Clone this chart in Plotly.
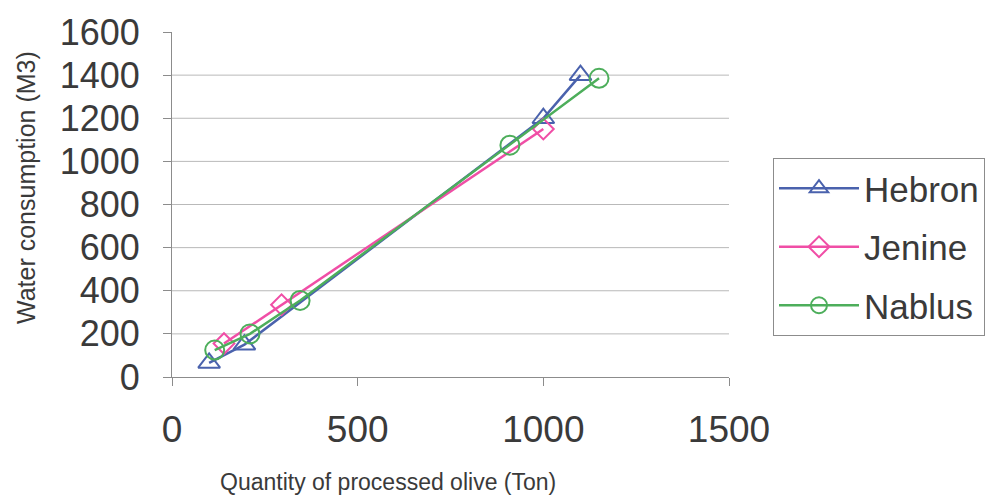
import plotly.graph_objects as go

# Data
hebron_x = [100, 195, 1000, 1100]
hebron_y = [65, 150, 1200, 1400]
jenine_x = [140, 295, 1000]
jenine_y = [155, 335, 1150]
nablus_x = [115, 210, 345, 910, 1150]
nablus_y = [125, 200, 355, 1075, 1385]

x_ticks = [0, 500, 1000, 1500]
y_ticks = [0, 200, 400, 600, 800, 1000, 1200, 1400, 1600]

FONT = "Liberation Sans, Arial, sans-serif"
TXT = "#3a3a3a"
AX = "#8c8c8c"

fig = go.Figure()
series = [
    ("Hebron", hebron_x, hebron_y, "#4a62ad", "triangle-up-open", 19),
    ("Jenine", jenine_x, jenine_y, "#f04ea6", "diamond-open", 16),
    ("Nablus", nablus_x, nablus_y, "#4dae5b", "circle-open", 19),
]
for name, xs, ys, col, sym, sz in series:
    fig.add_trace(go.Scatter(
        x=xs, y=ys, name=name, mode="lines+markers", legendgroup=name,
        line=dict(color=col, width=2.5),
        marker=dict(symbol=sym, size=sz, color=col, line=dict(color=col, width=2)),
    ))

# horizontal gridlines (except the top edge)
for v in y_ticks[1:-1]:
    fig.add_shape(type="line", xref="paper", yref="y", x0=0, x1=1, y0=v, y1=v,
                  line=dict(color="#b9b9b9", width=1), layer="below")

fig.update_layout(
    width=990, height=502,
    margin=dict(l=172, r=261, t=32, b=125, autoexpand=False),
    paper_bgcolor="white", plot_bgcolor="white",
    font=dict(family=FONT, color=TXT),
    showlegend=True,
    legend=dict(
        xref="container", yref="container",
        x=773 / 990, y=1 - 158 / 502, xanchor="left", yanchor="top",
        font=dict(size=35, color=TXT, family=FONT),
        bordercolor=AX, borderwidth=1, bgcolor="white",
        tracegroupgap=10, itemwidth=80,
    ),
    xaxis=dict(
        range=[0, 1500], tickvals=x_ticks, showgrid=False, zeroline=False,
        showline=True, linecolor=AX, linewidth=1, automargin=False,
        ticks="outside", ticklen=8, tickcolor=AX,
        tickfont=dict(size=37, color=TXT), ticklabelstandoff=12,
    ),
    yaxis=dict(
        range=[0, 1600], tickvals=y_ticks, showgrid=False, zeroline=False,
        showline=True, linecolor=AX, linewidth=1, automargin=False,
        ticks="outside", ticklen=8, tickcolor=AX,
        tickfont=dict(size=36, color=TXT), ticklabelstandoff=16,
    ),
    annotations=[
        dict(text="Quantity of processed olive (Ton)", xref="paper", yref="paper",
             x=(388 - 172) / 557, y=-(482 - 377) / 345, xanchor="center", yanchor="middle",
             showarrow=False, font=dict(size=23, color=TXT, family=FONT)),
        dict(text="Water consumption (M3)", xref="paper", yref="paper",
             x=-(172 - 26) / 557, y=(377 - 188) / 345, xanchor="center", yanchor="middle",
             textangle=-90, showarrow=False, font=dict(size=25, color=TXT, family=FONT)),
    ],
)

fig.write_html("out.html")
